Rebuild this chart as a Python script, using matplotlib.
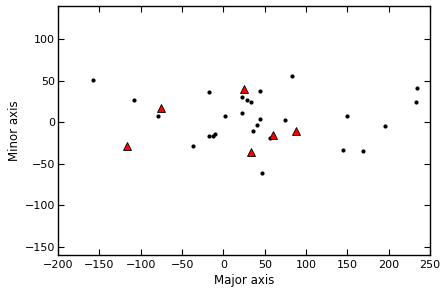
import matplotlib
matplotlib.use('Agg')
import matplotlib.pyplot as plt

# black points
dot_x = [-158, -108, -79, -37, -17, -17, -13, -10, 2, 22, 22, 28, 34, 36,
         41, 44, 44, 47, 56, 75, 83, 145, 150, 169, 195, 233, 234]
dot_y = [51, 27, 8, -28, 36, -16, -16, -14, 8, 31, 11, 27, 25, -10,
         -3, 38, 4, -61, -19, 3, 56, -33, 8, -35, -5, 25, 42]

# red triangles
tri_x = [-116, -76, 25, 33, 60, 88]
tri_y = [-28, 17, 40, -36, -15, -10]

fig = plt.figure(figsize=(4.48, 2.95), dpi=100)
ax = fig.add_axes([0.1295, 0.136, 0.8305, 0.8426])

ax.plot(dot_x, dot_y, 'o', color='k', markersize=3, markeredgewidth=0)
ax.plot(tri_x, tri_y, '^', color='#ff0000', markeredgecolor='k',
        markeredgewidth=0.6, markersize=6)

ax.set_xlim(-200, 250)
ax.set_ylim(-160, 140)
ax.set_xticks(range(-200, 251, 50))
ax.set_yticks(range(-150, 101, 50))
ax.tick_params(direction='in', top=True, right=True, length=4, width=0.8,
               labelsize=8)
ax.tick_params(axis='x', pad=3.5)
ax.tick_params(axis='y', pad=2)
for s in ax.spines.values():
    s.set_linewidth(1)

ax.set_xlabel('Major axis', fontsize=8.5, labelpad=3)
ax.set_ylabel('Minor axis', fontsize=8.5, labelpad=3)

fig.savefig('out.png', dpi=100)
